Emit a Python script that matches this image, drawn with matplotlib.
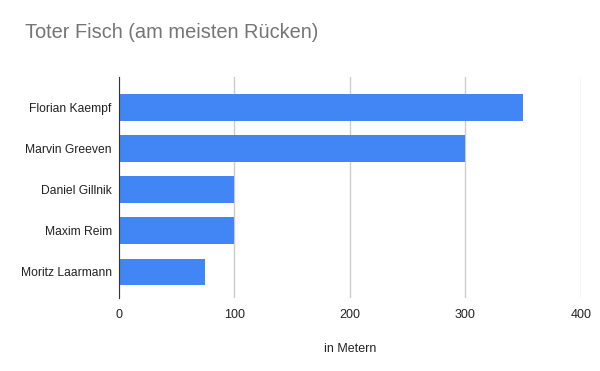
import matplotlib
matplotlib.use("Agg")
import matplotlib.pyplot as plt

# data
names = ["Florian Kaempf", "Marvin Greeven", "Daniel Gillnik", "Maxim Reim", "Moritz Laarmann"]
meters = [350, 300, 100, 100, 75]
xticks = [0, 100, 200, 300, 400]

plt.rcParams['font.family'] = ['Liberation Sans', 'DejaVu Sans']

fig = plt.figure(figsize=(6, 3.71), dpi=100)
ax = fig.add_axes([0.198, 0.197, 0.77, 0.595])

pos = list(range(len(names)))
ax.barh(pos, meters, height=0.65, color='#4285F4', zorder=3)

ax.set_ylim(4.63, -0.73)
ax.set_xlim(0, 400)
ax.set_yticks(pos)
ax.set_yticklabels(names, fontsize=8.7, color='#222222')
ax.set_xticks(xticks)
ax.set_xticklabels([str(t) for t in xticks], fontsize=9, color='#222222')
ax.tick_params(length=0, pad=8)
ax.tick_params(axis='y', pad=5)

ax.grid(axis='x', color='#cccccc', linewidth=1, zorder=0)
for s in ['top', 'right', 'bottom']:
    ax.spines[s].set_visible(False)
ax.spines['left'].set_color('#333333')
ax.spines['left'].set_zorder(4)

ax.set_xlabel('in Metern', fontsize=9, color='#222222', labelpad=16)
fig.text(25 / 600, 1 - 32 / 371, 'Toter Fisch (am meisten Rücken)', fontsize=14.4,
         color='#757575', va='center', ha='left')

fig.savefig('out.png', dpi=100, facecolor='white')
